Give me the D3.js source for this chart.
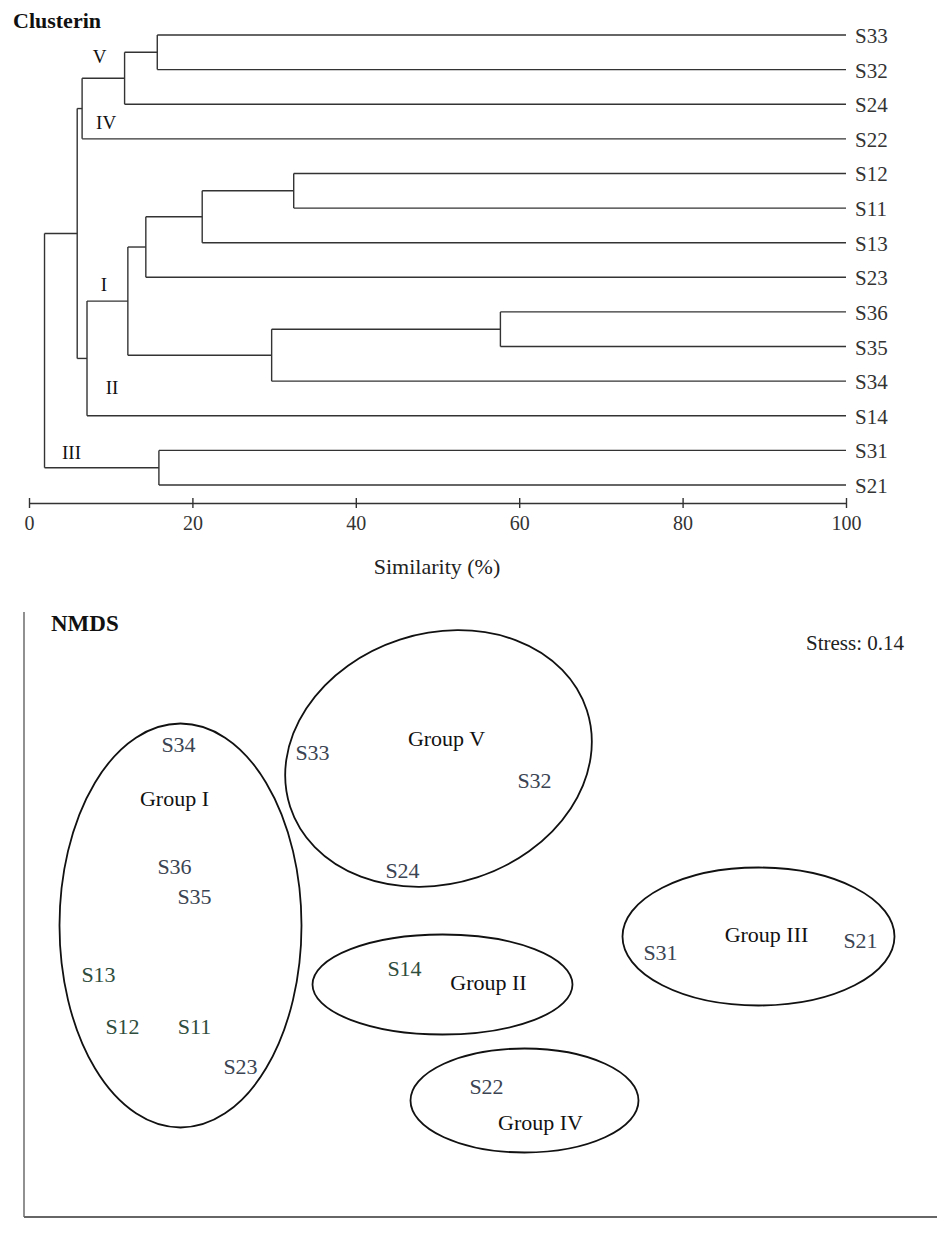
<!DOCTYPE html>
<html><head><meta charset="utf-8">
<script src="https://cdn.jsdelivr.net/npm/d3@7"></script>
<style>body{margin:0;background:#fff;} svg{display:block;}</style>
</head><body><svg id="c" width="945" height="1234"></svg>
<script>
// ---------- Data: cluster dendrogram ----------
const leaves = ["S33","S32","S24","S22","S12","S11","S13","S23","S36","S35","S34","S14","S31","S21"];
// merges: [child A, child B, similarity %]; "mN" refers to the N-th merge
const merges = [
  ["S33","S32",15.7],
  ["m0","S24",11.7],
  ["m1","S22",6.5],
  ["S12","S11",32.4],
  ["m3","S13",21.2],
  ["m4","S23",14.3],
  ["S36","S35",57.7],
  ["m6","S34",29.7],
  ["m5","m7",12.1],
  ["m8","S14",7.1],
  ["m2","m9",5.9],
  ["S31","S21",15.9],
  ["m10","m11",1.9]
];
const simTicks = [0,20,40,60,80,100];
const clusterNames = ["V","IV","I","II","III"];
const clusterNodes = ["m1","m2","m8","m9","m12"];

// ---------- Data: NMDS ----------
const sites = ["S34","S36","S35","S13","S12","S11","S23","S33","S32","S24","S14","S22","S31","S21"];
const nmds1 = [-1.51,-1.53,-1.43,-1.91,-1.79,-1.43,-1.20,-0.84,0.27,-0.39,-0.38,0.03,0.90,1.90];
const nmds2 = [0.85,0.24,0.09,-0.30,-0.56,-0.56,-0.76,0.81,0.67,0.22,-0.27,-0.86,-0.19,-0.13];
const groups = ["Group I","Group V","Group II","Group IV","Group III"];
const groupCx = [-1.50,-0.21,-0.19,0.22,1.39];
const groupCy = [-0.055,0.78,-0.35,-0.93,-0.11];
const groupRx = [0.605,0.78,0.65,0.57,0.68];
const groupRy = [1.01,0.625,0.25,0.26,0.345];
const groupRot = [0,-18,0,0,0];
const groupLabX = [-1.53,-0.17,0.04,0.30,1.43];
const groupLabY = [0.58,0.88,-0.34,-1.04,-0.10];
const stressText = "Stress: 0.14";

const svg = d3.select("#c");
const serif = "'Liberation Serif','Times New Roman',serif";

// ---------- Dendrogram ----------
const x = d3.scaleLinear().domain([0,100]).range([29,846]);
const y = d3.scalePoint().domain(leaves).range([35,485]);

const nodes = {};
leaves.forEach(l => nodes[l] = {name:l, sim:100, y:y(l)});
merges.forEach((m,i) => {
  const a = nodes[m[0]], b = nodes[m[1]];
  nodes["m"+i] = {name:"m"+i, sim:m[2], y:(a.y+b.y)/2, kids:[a,b]};
});
const internal = merges.map((m,i) => nodes["m"+i]);

const dg = svg.append("g").attr("fill","none").attr("stroke","#333").attr("stroke-width",1.4);
// vertical connectors
dg.selectAll("line.v").data(internal).join("line").attr("class","v")
  .attr("x1",d=>x(d.sim)).attr("x2",d=>x(d.sim))
  .attr("y1",d=>d.kids[0].y).attr("y2",d=>d.kids[1].y);
// horizontal branches
const branches = internal.flatMap(p => p.kids.map(c => ({p, c})));
dg.selectAll("line.h").data(branches).join("line").attr("class","h")
  .attr("x1",d=>x(d.p.sim)).attr("x2",d=>x(d.c.sim))
  .attr("y1",d=>d.c.y).attr("y2",d=>d.c.y);

// leaf labels
svg.append("g").selectAll("text").data(leaves).join("text")
  .attr("x", x(100)+9).attr("y", d=>y(d)+8)
  .attr("font-family",serif).attr("font-size",21).attr("fill","#333")
  .text(d=>d);

// cluster roman numerals, placed relative to their nodes
const clOff = {"V":[-25,-15],"IV":[24,20],"I":[-24,-10],"II":[25,36],"III":[27,-9]};
svg.append("g").selectAll("text").data(clusterNames).join("text")
  .attr("x",(d,i)=>x(nodes[clusterNodes[i]].sim)+clOff[d][0])
  .attr("y",(d,i)=>(d==="III"? nodes["m11"].y : nodes[clusterNodes[i]].y)+clOff[d][1])
  .attr("text-anchor","middle")
  .attr("font-family",serif).attr("font-size",19).attr("fill","#111")
  .text(d=>d);

// axis
const ax = svg.append("g").attr("transform","translate(0,503)")
  .call(d3.axisBottom(x).tickValues(simTicks).tickSizeOuter(0).tickFormat(d3.format("d")));
ax.select(".domain").attr("stroke","#333").attr("stroke-width",1.4);
ax.selectAll(".tick line").attr("y1",-5).attr("y2",5).attr("stroke","#333").attr("stroke-width",1.4);
ax.selectAll(".tick text").attr("y",27).attr("dy",null)
  .attr("font-family",serif).attr("font-size",20).attr("fill","#333");

svg.append("text").attr("x",437).attr("y",574).attr("text-anchor","middle")
  .attr("font-family",serif).attr("font-size",22).attr("fill","#222")
  .text("Similarity (%)");

svg.append("text").attr("x",13).attr("y",28)
  .attr("font-family",serif).attr("font-size",22).attr("font-weight","bold").attr("fill","#111")
  .text("Clusterin");

// ---------- NMDS ----------
const nx = d3.scaleLinear().domain([-2.3,2.3]).range([20.5,940.5]);
const ny = d3.scaleLinear().domain([-1.5,1.5]).range([1214.5,614.5]);

// panel frame
svg.append("line").attr("x1",24).attr("x2",24).attr("y1",612).attr("y2",1217)
  .attr("stroke","#555").attr("stroke-width",1.3);
svg.append("line").attr("x1",24).attr("x2",937).attr("y1",1217).attr("y2",1217)
  .attr("stroke","#666").attr("stroke-width",2.2);

svg.append("text").attr("x",51).attr("y",631)
  .attr("font-family",serif).attr("font-size",23).attr("font-weight","bold").attr("fill","#111")
  .text("NMDS");
svg.append("text").attr("x",904).attr("y",650).attr("text-anchor","end")
  .attr("font-family",serif).attr("font-size",21).attr("fill","#222")
  .text(stressText);

// ellipses
svg.append("g").selectAll("ellipse").data(groups).join("ellipse")
  .attr("cx",(d,i)=>nx(groupCx[i])).attr("cy",(d,i)=>ny(groupCy[i]))
  .attr("rx",(d,i)=>nx(groupRx[i])-nx(0)).attr("ry",(d,i)=>ny(0)-ny(groupRy[i]))
  .attr("transform",(d,i)=>`rotate(${groupRot[i]},${nx(groupCx[i])},${ny(groupCy[i])})`)
  .attr("fill","none").attr("stroke","#111").attr("stroke-width",1.8);

// group labels
svg.append("g").selectAll("text").data(groups).join("text")
  .attr("x",(d,i)=>nx(groupLabX[i])).attr("y",(d,i)=>ny(groupLabY[i]))
  .attr("dy","0.35em").attr("text-anchor","middle")
  .attr("font-family",serif).attr("font-size",22).attr("fill","#111")
  .text(d=>d);

// site labels
const siteColor = s => /^S1/.test(s) ? "#2f4d3c" : "#3b4452";
svg.append("g").selectAll("text").data(sites).join("text")
  .attr("x",(d,i)=>nx(nmds1[i])).attr("y",(d,i)=>ny(nmds2[i]))
  .attr("dy","0.35em").attr("text-anchor","middle")
  .attr("font-family",serif).attr("font-size",22).attr("fill",d=>siteColor(d))
  .text(d=>d);
</script>
</body></html>
